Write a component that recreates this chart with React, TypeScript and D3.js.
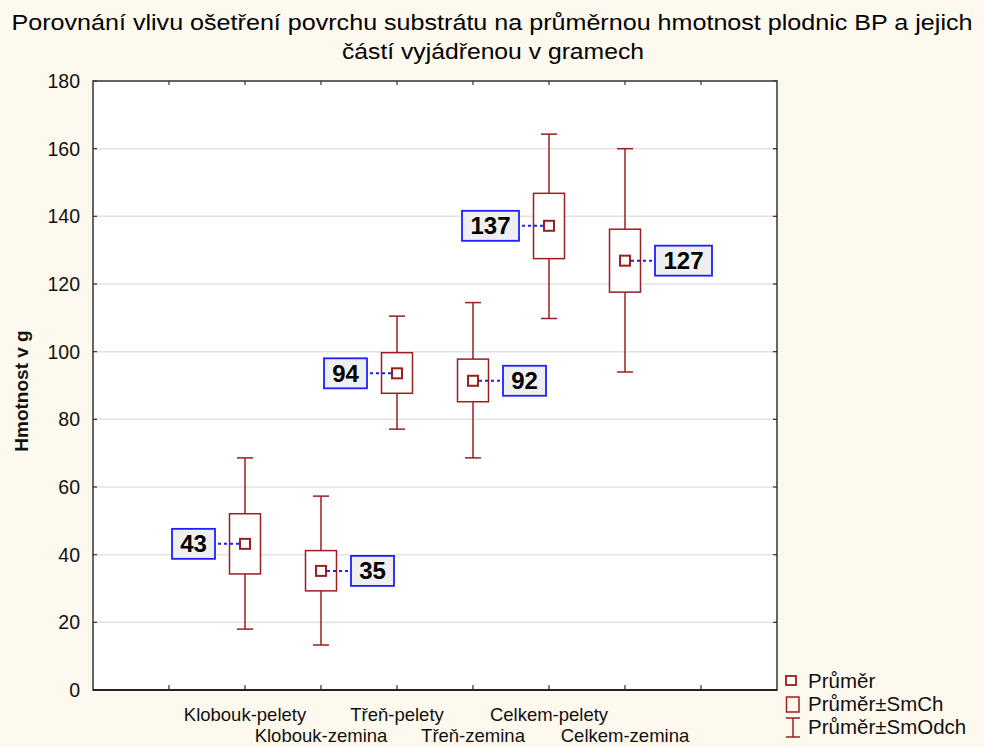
import React from "react";
import * as d3 from "d3";

const title1 = "Porovnání vlivu ošetření povrchu substrátu na průměrnou hmotnost plodnic BP a jejich";
const title2 = "částí vyjádřenou v gramech";
const yLabel = "Hmotnost v g";
const categories = ["Klobouk-pelety", "Klobouk-zemina", "Třeň-pelety", "Třeň-zemina", "Celkem-pelety", "Celkem-zemina"];
const means = [43.2, 35.2, 93.6, 91.4, 137.2, 126.9];
const seLow = [34.3, 29.3, 87.7, 85.2, 127.5, 117.6];
const seHigh = [52.1, 41.2, 99.7, 97.8, 146.8, 136.2];
const sdLow = [18.0, 13.3, 77.1, 68.6, 109.8, 94.0];
const sdHigh = [68.6, 57.3, 110.5, 114.5, 164.3, 160.0];
const meanLabels = ["43", "35", "94", "92", "137", "127"];
const yTicks = [0, 20, 40, 60, 80, 100, 120, 140, 160, 180];
const legendItems = ["Průměr", "Průměr±SmCh", "Průměr±SmOdch"];

const W = 984, H = 747;
const L = 93, R = 777, T = 81, B = 690;
const RED = "#9a1f1f";
const BLUE = "#1f1fff";
const FONT = "Liberation Sans, Arial, sans-serif";

export default function App() {
  const x = d3.scaleLinear().domain([0, 9]).range([L, R]);
  const y = d3.scaleLinear().domain([0, 180]).range([B, T]);
  const xTickIdx = d3.range(1, 9);
  const boxW = 31, capW = 16, mk = 10;

  return (
    <svg width={W} height={H} style={{ position: "absolute", left: 0, top: 0 }} fontFamily={FONT}>
      <rect x={0} y={0} width={W} height={H} fill="#fdf9ee" />
      <text x={492} y={30} fontSize={22} textAnchor="middle" textLength={961} lengthAdjust="spacingAndGlyphs">{title1}</text>
      <text x={493} y={59} fontSize={22} textAnchor="middle" textLength={302} lengthAdjust="spacingAndGlyphs">{title2}</text>

      <rect x={L} y={T} width={R - L} height={B - T} fill="#ffffff" />
      {yTicks.filter(t => t > 0 && t < 180).map(t => (
        <line key={"g" + t} x1={L} x2={R} y1={y(t)} y2={y(t)} stroke="#e2e2e2" strokeWidth={1.5} />
      ))}
      {yTicks.map(t => (
        <g key={"yt" + t}>
          <line x1={L} x2={L + 4} y1={y(t)} y2={y(t)} stroke="#333" strokeWidth={1.2} />
          <line x1={R} x2={R - 4} y1={y(t)} y2={y(t)} stroke="#333" strokeWidth={1.2} />
          <text x={80} y={y(t) + 7} fontSize={19.5} textAnchor="end" fill="#111">{t}</text>
        </g>
      ))}
      {xTickIdx.map(k => (
        <g key={"xt" + k}>
          <line x1={x(k)} x2={x(k)} y1={B} y2={B - 5} stroke="#333" strokeWidth={1.2} />
          <line x1={x(k)} x2={x(k)} y1={T} y2={T + 4} stroke="#333" strokeWidth={1.2} />
        </g>
      ))}
      <rect x={L} y={T} width={R - L} height={B - T} fill="none" stroke="#333" strokeWidth={1.5} />
      <line x1={L} x2={R} y1={B} y2={B} stroke="#222" strokeWidth={2} />

      {categories.map((c, i) => {
        const cx = x(i + 2);
        const row = i % 2;
        return (
          <text key={"xl" + i} x={cx} y={row === 0 ? 721 : 742} fontSize={18.5} textAnchor="middle" fill="#111">{c}</text>
        );
      })}

      {categories.map((c, i) => {
        const cx = x(i + 2);
        const my = y(means[i]);
        const left = i % 2 === 0;
        const lw = meanLabels[i].length * 14 + 15;
        const lh = 30;
        const gap = 30;
        const lx = left ? cx - gap - lw : cx + gap;
        const edge = left ? lx + lw : lx;
        return (
          <g key={"b" + i}>
            <line x1={cx} x2={cx} y1={y(sdHigh[i])} y2={y(seHigh[i])} stroke={RED} strokeWidth={1.5} />
            <line x1={cx} x2={cx} y1={y(seLow[i])} y2={y(sdLow[i])} stroke={RED} strokeWidth={1.5} />
            <line x1={cx - capW / 2} x2={cx + capW / 2} y1={y(sdHigh[i])} y2={y(sdHigh[i])} stroke={RED} strokeWidth={1.5} />
            <line x1={cx - capW / 2} x2={cx + capW / 2} y1={y(sdLow[i])} y2={y(sdLow[i])} stroke={RED} strokeWidth={1.5} />
            <rect x={cx - boxW / 2} y={y(seHigh[i])} width={boxW} height={y(seLow[i]) - y(seHigh[i])} fill="#fff" stroke={RED} strokeWidth={1.5} />
            <line x1={cx} x2={edge} y1={my} y2={my} stroke={BLUE} strokeWidth={2} strokeDasharray="3,3" />
            <rect x={cx - mk / 2} y={my - mk / 2} width={mk} height={mk} fill="#fff" stroke={RED} strokeWidth={2} />
            <rect x={lx} y={my - lh / 2} width={lw} height={lh} fill="#efefef" stroke={BLUE} strokeWidth={1.8} />
            <text x={lx + lw / 2} y={my + 8.5} fontSize={24} fontWeight="bold" textAnchor="middle" fill="#000">{meanLabels[i]}</text>
          </g>
        );
      })}

      <text transform={`translate(28,391) rotate(-90)`} fontSize={19} fontWeight="bold" textAnchor="middle" fill="#111">{yLabel}</text>

      <g>
        <rect x={786} y={676} width={10} height={9} fill="#fff" stroke={RED} strokeWidth={1.8} />
        <rect x={786.5} y={697} width={12.5} height={15} fill="none" stroke={RED} strokeWidth={1.5} />
        <line x1={793} x2={793} y1={718} y2={737} stroke={RED} strokeWidth={1.5} />
        <line x1={786} x2={800} y1={718} y2={718} stroke={RED} strokeWidth={1.5} />
        <line x1={786} x2={800} y1={737} y2={737} stroke={RED} strokeWidth={1.5} />
        {legendItems.map((t, i) => (
          <text key={"lg" + i} x={808} y={688 + i * 23} fontSize={20.5} fill="#111">{t}</text>
        ))}
      </g>
    </svg>
  );
}
